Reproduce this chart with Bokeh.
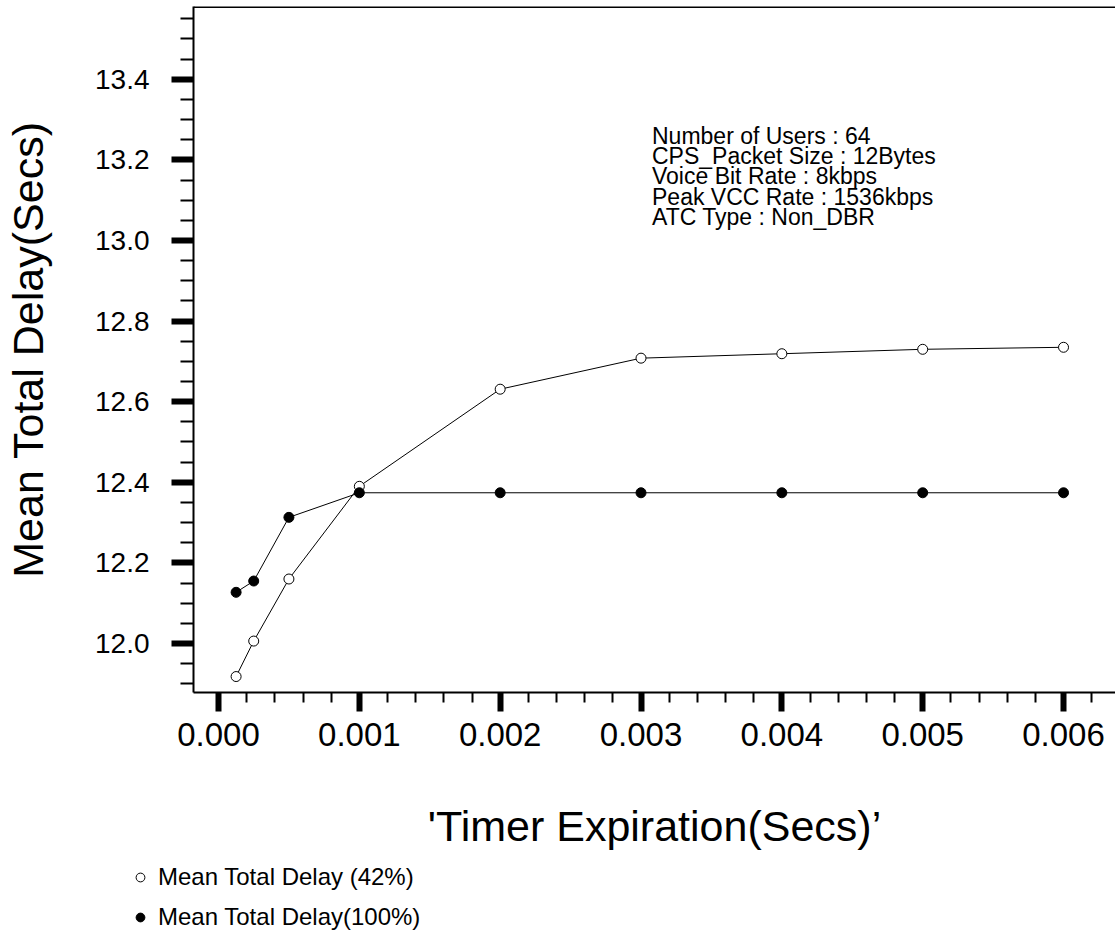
from bokeh.plotting import figure
from bokeh.layouts import column
from bokeh.models import (ColumnDataSource, FixedTicker, Range1d, Span, Legend,
                          LegendItem, LinearAxis, CustomJSTickFormatter)
from bokeh.core.properties import value
from bokeh.embed import file_html
from bokeh.resources import INLINE

# ---------------- data ----------------
timer = [0.000125, 0.00025, 0.0005, 0.001, 0.002, 0.003, 0.004, 0.005, 0.006]
delay_42 = [11.918, 12.006, 12.160, 12.390, 12.631, 12.708, 12.719, 12.730, 12.735]
delay_100 = [12.127, 12.155, 12.313, 12.374, 12.374, 12.374, 12.374, 12.374, 12.374]
series_names = ["Mean Total Delay (42%)", "Mean Total Delay(100%)"]

x_ticks = [0.000, 0.001, 0.002, 0.003, 0.004, 0.005, 0.006]
x_tick_labels = ["0.000", "0.001", "0.002", "0.003", "0.004", "0.005", "0.006"]
y_ticks = [12.0, 12.2, 12.4, 12.6, 12.8, 13.0, 13.2, 13.4]
y_tick_labels = ["12.0", "12.2", "12.4", "12.6", "12.8", "13.0", "13.2", "13.4"]

info_lines = ["Number of Users : 64", "CPS_Packet Size : 12Bytes",
              "Voice Bit Rate : 8kbps", "Peak VCC Rate : 1536kbps",
              "ATC Type : Non_DBR"]

x_title = "'Timer Expiration(Secs)\u2019"
y_title = "Mean Total Delay(Secs)"

FONT = "Liberation Sans"

# minor tick positions
x_minor = [round(0.0002 * i, 6) for i in range(0, 32)]
y_minor = [round(11.9 + 0.05 * i, 4) for i in range(0, 34)]

# ---------------- main figure ----------------
X0, X1 = -0.0001775, 0.006369
Y0, Y1 = 11.8784, 13.5806
W, H_MAIN, H_LEG = 1115, 862, 75

p = figure(width=W, height=H_MAIN, output_backend="svg", toolbar_location=None,
           x_range=Range1d(X0, X1), y_range=Range1d(Y0, Y1),
           x_axis_type=None, y_axis_type=None,
           min_border_left=193, min_border_right=0, min_border_top=6,
           min_border_bottom=H_MAIN - 692)
p.outline_line_color = None
p.background_fill_color = "white"
p.border_fill_color = "white"

fmt_code = """
const i = tv.findIndex(t => Math.abs(t - tick) < 1e-9);
return i >= 0 ? lv[i] : '';
"""

xaxis = LinearAxis(
    ticker=FixedTicker(ticks=x_ticks, minor_ticks=x_minor),
    formatter=CustomJSTickFormatter(args=dict(tv=x_ticks, lv=x_tick_labels), code=fmt_code),
    axis_label=x_title)
yaxis = LinearAxis(
    ticker=FixedTicker(ticks=y_ticks, minor_ticks=y_minor),
    formatter=CustomJSTickFormatter(args=dict(tv=y_ticks, lv=y_tick_labels), code=fmt_code),
    axis_label=y_title)

for ax in (xaxis, yaxis):
    ax.axis_line_color = "black"
    ax.axis_line_width = 2
    ax.major_tick_line_color = "black"
    ax.major_tick_line_width = 6
    ax.major_tick_in = 0
    ax.minor_tick_line_color = "black"
    ax.minor_tick_line_width = 2
    ax.minor_tick_in = 0
    ax.major_label_text_font = FONT
    ax.major_label_text_color = "black"
    ax.axis_label_text_font = FONT
    ax.axis_label_text_font_style = "normal"
    ax.axis_label_text_color = "black"
    ax.axis_label_text_font_size = "43px"

xaxis.major_tick_out = 19
xaxis.minor_tick_out = 10
xaxis.major_label_standoff = 11
xaxis.major_label_text_font_size = "33px"
xaxis.axis_label_standoff = 53

yaxis.major_tick_out = 22
yaxis.minor_tick_out = 13
yaxis.major_label_standoff = 22
yaxis.major_label_text_font_size = "28px"
yaxis.axis_label_standoff = 40

p.add_layout(xaxis, "below")
p.add_layout(yaxis, "left")

# top frame line
p.add_layout(Span(location=Y1, dimension="width", line_color="black", line_width=3))

# ---------------- series ----------------
src = ColumnDataSource(dict(x=timer, a=delay_42, b=delay_100))
p.line("x", "a", source=src, line_color="black", line_width=1)
p.line("x", "b", source=src, line_color="black", line_width=1)
p.scatter("x", "a", source=src, marker="circle", size=10,
          line_color="black", fill_color="white", line_width=1)
p.scatter("x", "b", source=src, marker="circle", size=10,
          line_color="black", fill_color="black", line_width=1)

# ---------------- info text ----------------
info_x = 0.003078
info_y0 = 13.2605
info_dy = 0.0506
info_src = ColumnDataSource(dict(
    x=[info_x] * len(info_lines),
    y=[info_y0 - i * info_dy for i in range(len(info_lines))],
    t=info_lines))
p.text("x", "y", text="t", source=info_src, text_font=value(FONT),
       text_font_size="23px", text_baseline="middle", text_align="left",
       text_color="black")

# ---------------- legend strip below the chart ----------------
pl = figure(width=W, height=H_LEG, output_backend="svg", toolbar_location=None,
            x_range=Range1d(0, 1), y_range=Range1d(0, 1),
            x_axis_type=None, y_axis_type=None,
            min_border_left=0, min_border_right=0, min_border_top=0,
            min_border_bottom=0)
pl.outline_line_color = None
pl.background_fill_color = "white"
pl.border_fill_color = "white"
pl.grid.visible = False
for fig in (p, pl):
    try:
        fig.frame_align = False
    except Exception:
        pass

# same series glyph styles (data lies outside this strip's ranges)
l42 = pl.scatter("x", "a", source=src, marker="circle", size=10,
                 line_color="black", fill_color="white", line_width=1)
l100 = pl.scatter("x", "b", source=src, marker="circle", size=10,
                  line_color="black", fill_color="black", line_width=1)

legend = Legend(items=[LegendItem(label=series_names[0], renderers=[l42]),
                       LegendItem(label=series_names[1], renderers=[l100])],
                location=(129, 5), orientation="vertical",
                border_line_color=None, background_fill_alpha=0,
                padding=0, margin=0, spacing=10,
                glyph_width=22, glyph_height=30, label_height=30,
                label_standoff=7, label_text_font=FONT,
                label_text_font_size="24px", label_text_color="black")
pl.add_layout(legend)

layout = column(p, pl, spacing=0)
open("out.html", "w").write(file_html(layout, INLINE))
